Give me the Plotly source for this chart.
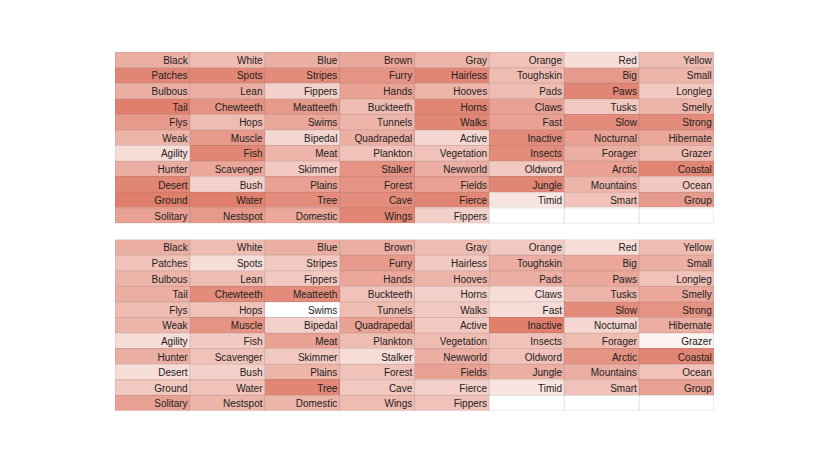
import plotly.graph_objects as go
from plotly.subplots import make_subplots

# Word grid (11 rows x 8 columns, last row only has 5 words)
labels = [
    ['Black', 'White', 'Blue', 'Brown', 'Gray', 'Orange', 'Red', 'Yellow'],
    ['Patches', 'Spots', 'Stripes', 'Furry', 'Hairless', 'Toughskin', 'Big', 'Small'],
    ['Bulbous', 'Lean', 'Fippers', 'Hands', 'Hooves', 'Pads', 'Paws', 'Longleg'],
    ['Tail', 'Chewteeth', 'Meatteeth', 'Buckteeth', 'Horns', 'Claws', 'Tusks', 'Smelly'],
    ['Flys', 'Hops', 'Swims', 'Tunnels', 'Walks', 'Fast', 'Slow', 'Strong'],
    ['Weak', 'Muscle', 'Bipedal', 'Quadrapedal', 'Active', 'Inactive', 'Nocturnal', 'Hibernate'],
    ['Agility', 'Fish', 'Meat', 'Plankton', 'Vegetation', 'Insects', 'Forager', 'Grazer'],
    ['Hunter', 'Scavenger', 'Skimmer', 'Stalker', 'Newworld', 'Oldword', 'Arctic', 'Coastal'],
    ['Desert', 'Bush', 'Plains', 'Forest', 'Fields', 'Jungle', 'Mountains', 'Ocean'],
    ['Ground', 'Water', 'Tree', 'Cave', 'Fierce', 'Timid', 'Smart', 'Group'],
    ['Solitary', 'Nestspot', 'Domestic', 'Wings', 'Fippers', None, None, None],
]

# Attribute strengths (0 = white, 1 = darkest)
top_values = [
    [0.60, 0.50, 0.60, 0.65, 0.55, 0.45, 0.25, 0.50],
    [0.90, 0.90, 0.85, 0.80, 0.90, 0.50, 0.75, 0.55],
    [0.60, 0.60, 0.35, 0.70, 0.55, 0.50, 0.90, 0.40],
    [0.95, 0.80, 0.75, 0.50, 0.90, 0.70, 0.40, 0.55],
    [0.75, 0.50, 0.65, 0.55, 0.90, 0.70, 0.85, 0.85],
    [0.55, 0.75, 0.30, 0.60, 0.30, 0.85, 0.70, 0.65],
    [0.25, 0.90, 0.55, 0.45, 0.45, 0.85, 0.60, 0.50],
    [0.60, 0.65, 0.40, 0.80, 0.60, 0.40, 0.70, 0.90],
    [0.90, 0.35, 0.70, 0.80, 0.70, 0.90, 0.55, 0.40],
    [0.95, 0.95, 0.85, 0.85, 0.90, 0.20, 0.45, 0.75],
    [0.70, 0.75, 0.65, 0.90, 0.35, None, None, None],
]

bottom_values = [
    [0.60, 0.50, 0.60, 0.60, 0.50, 0.40, 0.25, 0.50],
    [0.45, 0.25, 0.40, 0.75, 0.40, 0.60, 0.65, 0.60],
    [0.55, 0.50, 0.40, 0.65, 0.55, 0.60, 0.65, 0.45],
    [0.60, 0.85, 0.85, 0.45, 0.35, 0.25, 0.55, 0.65],
    [0.50, 0.45, 0.00, 0.50, 0.40, 0.25, 0.85, 0.80],
    [0.55, 0.80, 0.35, 0.70, 0.40, 0.95, 0.30, 0.60],
    [0.25, 0.40, 0.70, 0.50, 0.50, 0.45, 0.50, 0.10],
    [0.60, 0.45, 0.40, 0.25, 0.60, 0.45, 0.80, 0.90],
    [0.25, 0.35, 0.55, 0.45, 0.70, 0.60, 0.60, 0.45],
    [0.40, 0.45, 0.90, 0.40, 0.35, 0.20, 0.45, 0.70],
    [0.70, 0.55, 0.55, 0.50, 0.45, None, None, None],
]

colorscale = [[0, '#ffffff'], [1, '#de7864']]

n_rows = len(labels)
n_cols = len(labels[0])

fig = make_subplots(rows=2, cols=1, vertical_spacing=0.045)

# grid line path around every cell (structure, not data)
gx, gy = [], []
for i in range(n_rows + 1):
    gx += [-0.5, n_cols - 0.5, None]
    gy += [i - 0.5, i - 0.5, None]
for j in range(n_cols + 1):
    gx += [j - 0.5, j - 0.5, None]
    gy += [-0.5, n_rows - 0.5, None]

# words sit right-aligned with a little padding from the cell edge
tx, ty, tt = [], [], []
for i, row in enumerate(labels):
    for j, word in enumerate(row):
        if word is not None:
            tx.append(j + 0.47)
            ty.append(i + 0.1)
            tt.append(word)

for r, values in enumerate([top_values, bottom_values], start=1):
    fig.add_trace(go.Heatmap(
        z=values,
        x=list(range(n_cols)),
        y=list(range(n_rows)),
        colorscale=colorscale,
        zmin=0, zmax=1,
        showscale=False,
        hoverinfo='skip',
    ), row=r, col=1)
    fig.add_trace(go.Scatter(
        x=gx, y=gy, mode='lines',
        line=dict(color='rgba(120,110,110,0.22)', width=1),
        hoverinfo='skip', showlegend=False,
    ), row=r, col=1)
    fig.add_trace(go.Scatter(
        x=tx, y=ty, text=tt, mode='text',
        textposition='middle left',
        textfont=dict(family='Liberation Sans, Arial', size=10, color='#222222'),
        hoverinfo='skip', showlegend=False,
    ), row=r, col=1)
    fig.update_xaxes(range=[-0.5, n_cols - 0.5], visible=False, row=r, col=1)
    fig.update_yaxes(range=[n_rows - 0.5, -0.5], visible=False, row=r, col=1)

fig.update_layout(
    width=814, height=459,
    margin=dict(l=107, r=108, t=44, b=56),
    plot_bgcolor='white',
    paper_bgcolor='white',
    showlegend=False,
)

fig.write_html('out.html')
